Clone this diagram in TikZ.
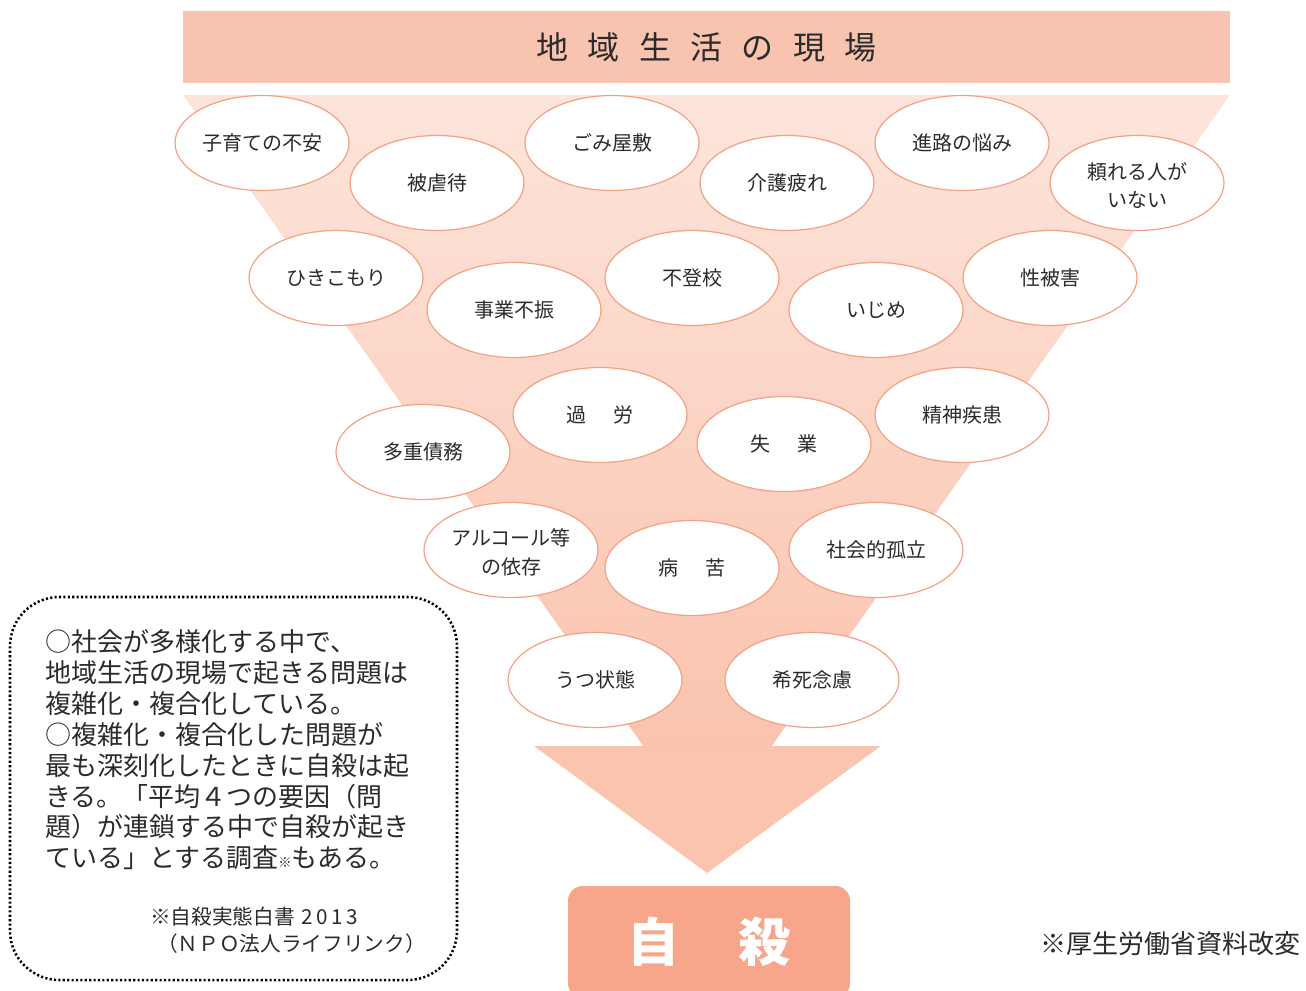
\documentclass[tikz,border=0pt]{standalone}
\usepackage{fontspec}
\usetikzlibrary{shapes.geometric}
\newfontfamily\jp{Noto Sans CJK JP}
\definecolor{banner}{HTML}{F9C4AF}
\definecolor{ftop}{HTML}{FDE5DB}
\definecolor{fbot}{HTML}{FAC3AE}
\definecolor{arrowc}{HTML}{FBC4AF}
\definecolor{boxc}{HTML}{F7A68B}
\definecolor{edgec}{HTML}{F4A083}
\definecolor{ink}{HTML}{2B2B2B}
\newcommand{\twoline}[3]{\raisebox{#1}[\height][\depth]{\begin{tabular}{@{}c@{}}#2\\#3\end{tabular}}}
\begin{document}
\begin{tikzpicture}[x=0.75pt,y=-0.75pt,
  bub/.style={ellipse, draw=edgec, line width=0.9pt, fill=white,
    minimum width=130.5pt, minimum height=71.25pt, inner sep=0pt,
    text=ink, font=\jp\fontsize{15pt}{21.5pt}\selectfont, align=center},
  bodyline/.style={anchor=west, inner sep=0pt, text=ink,
    font=\jp\fontsize{19.5pt}{23pt}\selectfont},
  noteline/.style={anchor=west, inner sep=0pt, text=ink,
    font=\jp\fontsize{15.5pt}{18pt}\selectfont}]
\useasboundingbox (0,0) rectangle (1306,990);
\clip (0,0) rectangle (1306,990);
% banner
\node[fill=banner, minimum width=785.25pt, minimum height=54pt, inner sep=0pt,
  text=ink, font=\jp\fontsize{24pt}{24pt}\selectfont] (banner) at (706.5,47)
  {地\hspace{14.6pt}域\hspace{14.6pt}生\hspace{14.6pt}活\hspace{14.6pt}の\hspace{14.6pt}現\hspace{14.6pt}場};
% funnel
\shade[top color=ftop, bottom color=fbot] (183,95) -- (1230,95) -- (771,747) -- (644,747) -- cycle;
\fill[arrowc] (534,746) -- (881,746) -- (707,873) -- cycle;
% result box
\node[fill=boxc, rounded corners=11pt, minimum width=211.5pt, minimum height=84pt,
  inner sep=0pt, text=white, font=\jp\bfseries\fontsize{39pt}{39pt}\selectfont]
  (suicide) at (709,942) {自\hspace{45pt}殺};
% bubbles
\node[bub] (b1) at (262,143) {子育ての不安};
\node[bub] (b2) at (437,183) {被虐待};
\node[bub] (b3) at (612,143) {ごみ屋敷};
\node[bub] (b4) at (787,183) {介護疲れ};
\node[bub] (b5) at (962,143) {進路の悩み};
\node[bub] (b6) at (1137,183) {\twoline{-3.5pt}{頼れる人が}{いない}};
\node[bub] (b7) at (336,278) {ひきこもり};
\node[bub] (b8) at (514,310) {事業不振};
\node[bub] (b9) at (692,278) {不登校};
\node[bub] (b10) at (876,310) {いじめ};
\node[bub] (b11) at (1050,278) {性被害};
\node[bub] (b12) at (600,415) {過\hspace{1.4em}労};
\node[bub] (b13) at (423,452) {多重債務};
\node[bub] (b14) at (784,444) {失\hspace{1.4em}業};
\node[bub] (b15) at (962,415) {精神疾患};
\node[bub] (b16) at (511,550) {\twoline{-3pt}{アルコール等}{の依存}};
\node[bub] (b17) at (692,568) {病\hspace{1.4em}苦};
\node[bub] (b18) at (876,550) {社会的孤立};
\node[bub] (b19) at (595,680) {うつ状態};
\node[bub] (b20) at (812,680) {希死念慮};
% dotted note box
\draw[line width=1.9pt, dash pattern=on 1.6pt off 1.7pt, rounded corners=37pt]
  (10,597) rectangle (457,980);
\node[bodyline] (l1) at (45,642) {○社会が多様化する中で、};
\node[bodyline] (l2) at (45,673) {地域生活の現場で起きる問題は};
\node[bodyline] (l3) at (45,704) {複雑化・複合化している。};
\node[bodyline] (l4) at (45,735) {○複雑化・複合化した問題が};
\node[bodyline] (l5) at (45,766) {最も深刻化したときに自殺は起};
\node[bodyline] (l6) at (45,797) {きる。「平均４つの要因（問};
\node[bodyline] (l7) at (45,827) {題）が連鎖する中で自殺が起き};
\node[bodyline] (l8) at (45,858) {ている」とする調査{\fontsize{10pt}{10pt}\selectfont ※}もある。};
\node[noteline] (n1) at (150,917) {※自殺実態白書\hspace{5pt}2\hspace{2.5pt}0\hspace{2.5pt}1\hspace{2.5pt}3};
\node[noteline] (n2) at (157,944) {（ＮＰＯ法人ライフリンク）};
% source
\node[anchor=west, inner sep=0pt, text=ink, font=\jp\fontsize{19.5pt}{22pt}\selectfont]
  (src) at (1040,944) {※厚生労働省資料改変};
\end{tikzpicture}
\end{document}
